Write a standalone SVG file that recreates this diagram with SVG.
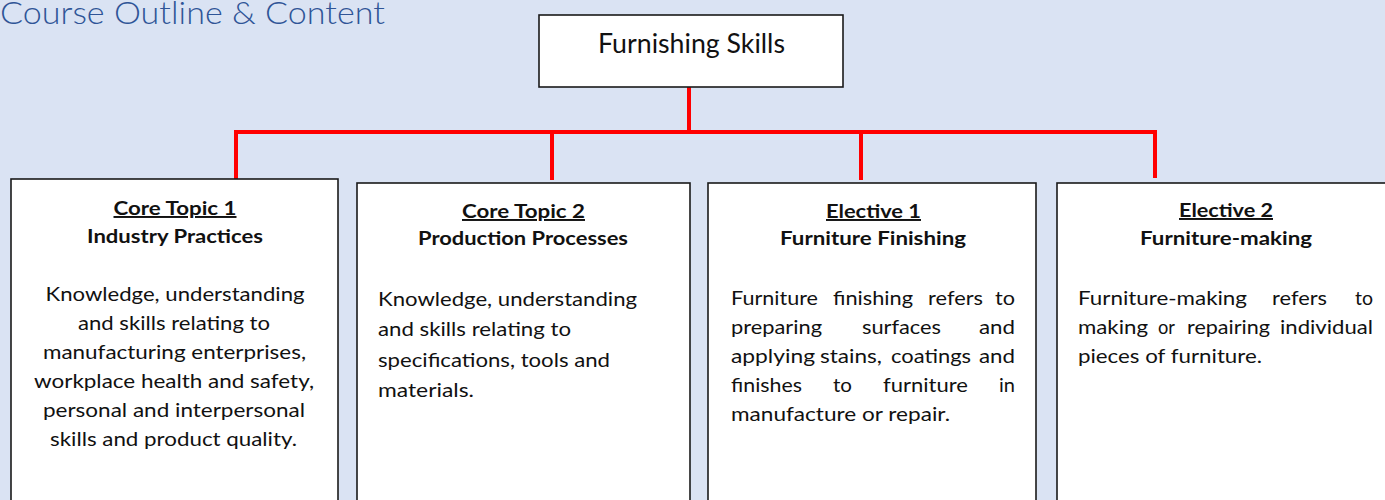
<svg xmlns="http://www.w3.org/2000/svg" width="1385" height="500" viewBox="0 0 1385 500">
<style>
.bg{fill:#DAE3F3}
.box{fill:#FFFFFF;stroke:#1A1A1A;stroke-width:1.6}
.con{fill:none;stroke:#FF0000;stroke-width:4;stroke-linecap:butt;stroke-linejoin:miter}
.t{font-family:Lato,"Liberation Sans",sans-serif;fill:#111111}
.title{font-family:Lato,"Liberation Sans",sans-serif;font-size:32px;font-weight:300;fill:#2F5597}
.root{font-size:27px}
.hd{font-size:19.5px;font-weight:bold}
.ul{text-decoration:underline}
.bd{font-size:20px}
.c{text-anchor:middle}
.e{text-anchor:end}
</style>
<rect class="bg" x="0" y="0" width="1385" height="500"/>
<text class="title" x="0" y="24" textLength="385" lengthAdjust="spacingAndGlyphs">Course Outline &amp; Content</text>

<g id="connectors">
<path class="con" d="M689 87 V133"/>
<path class="con" d="M236 179 V132 H1155 V178"/>
<path class="con" d="M552 132 V180"/>
<path class="con" d="M861 132 V180"/>
</g>

<g id="root">
<rect class="box" x="539" y="15" width="304" height="72"/>
<text class="t root c" x="691.5" y="53" textLength="187" lengthAdjust="spacingAndGlyphs">Furnishing Skills</text>
</g>

<g id="core1">
<rect class="box" x="11" y="179" width="327" height="340"/>
<text class="t hd ul c" x="175" y="215" textLength="123" lengthAdjust="spacingAndGlyphs">Core Topic 1</text>
<text class="t hd c" x="175" y="243" textLength="176" lengthAdjust="spacingAndGlyphs">Industry Practices</text>
<text class="t bd c" x="175" y="301" textLength="259" lengthAdjust="spacingAndGlyphs">Knowledge, understanding</text>
<text class="t bd c" x="174" y="330" textLength="192" lengthAdjust="spacingAndGlyphs">and skills relating to</text>
<text class="t bd c" x="174.5" y="359" textLength="263" lengthAdjust="spacingAndGlyphs">manufacturing enterprises,</text>
<text class="t bd c" x="174" y="388" textLength="280" lengthAdjust="spacingAndGlyphs">workplace health and safety,</text>
<text class="t bd c" x="174" y="417" textLength="262" lengthAdjust="spacingAndGlyphs">personal and interpersonal</text>
<text class="t bd c" x="173.5" y="446" textLength="247" lengthAdjust="spacingAndGlyphs">skills and product quality.</text>
</g>

<g id="core2">
<rect class="box" x="357" y="183" width="333" height="340"/>
<text class="t hd ul c" x="523.5" y="218" textLength="123" lengthAdjust="spacingAndGlyphs">Core Topic 2</text>
<text class="t hd c" x="523" y="245" textLength="210" lengthAdjust="spacingAndGlyphs">Production Processes</text>
<text class="t bd" x="378" y="306" textLength="259" lengthAdjust="spacingAndGlyphs">Knowledge, understanding</text>
<text class="t bd" x="378" y="336" textLength="193" lengthAdjust="spacingAndGlyphs">and skills relating to</text>
<text class="t bd" x="378" y="367" textLength="232" lengthAdjust="spacingAndGlyphs">specifications, tools and</text>
<text class="t bd" x="378" y="397" textLength="96" lengthAdjust="spacingAndGlyphs">materials.</text>
</g>

<g id="elective1">
<rect class="box" x="708" y="183" width="328" height="340"/>
<text class="t hd ul c" x="873.5" y="218" textLength="95" lengthAdjust="spacingAndGlyphs">Elective 1</text>
<text class="t hd c" x="873" y="245" textLength="186" lengthAdjust="spacingAndGlyphs">Furniture Finishing</text>
<text class="t bd" y="305"><tspan x="731" textLength="87" lengthAdjust="spacingAndGlyphs">Furniture</tspan><tspan x="833" textLength="80" lengthAdjust="spacingAndGlyphs">finishing</tspan><tspan x="928" textLength="55" lengthAdjust="spacingAndGlyphs">refers</tspan><tspan x="995" textLength="20" lengthAdjust="spacingAndGlyphs">to</tspan></text>
<text class="t bd" y="334"><tspan x="731" textLength="91" lengthAdjust="spacingAndGlyphs">preparing</tspan><tspan x="862" textLength="79" lengthAdjust="spacingAndGlyphs">surfaces</tspan><tspan x="979" textLength="36" lengthAdjust="spacingAndGlyphs">and</tspan></text>
<text class="t bd" y="363"><tspan x="731" textLength="84" lengthAdjust="spacingAndGlyphs">applying</tspan><tspan x="820" textLength="62" lengthAdjust="spacingAndGlyphs">stains,</tspan><tspan x="891" textLength="80" lengthAdjust="spacingAndGlyphs">coatings</tspan><tspan x="979" textLength="36" lengthAdjust="spacingAndGlyphs">and</tspan></text>
<text class="t bd" y="392"><tspan x="731" textLength="71" lengthAdjust="spacingAndGlyphs">finishes</tspan><tspan x="833" textLength="19" lengthAdjust="spacingAndGlyphs">to</tspan><tspan x="883" textLength="85" lengthAdjust="spacingAndGlyphs">furniture</tspan><tspan x="999" textLength="16" lengthAdjust="spacingAndGlyphs">in</tspan></text>
<text class="t bd" x="731" y="421" textLength="219" lengthAdjust="spacingAndGlyphs">manufacture or repair.</text>
</g>

<g id="elective2">
<rect class="box" x="1057" y="183" width="340" height="340"/>
<text class="t hd ul c" x="1226" y="217" textLength="94" lengthAdjust="spacingAndGlyphs">Elective 2</text>
<text class="t hd c" x="1226" y="245" textLength="172" lengthAdjust="spacingAndGlyphs">Furniture-making</text>
<text class="t bd" y="305"><tspan x="1078" textLength="169" lengthAdjust="spacingAndGlyphs">Furniture-making</tspan><tspan x="1272" textLength="55" lengthAdjust="spacingAndGlyphs">refers</tspan><tspan x="1355" textLength="18" lengthAdjust="spacingAndGlyphs">to</tspan></text>
<text class="t bd" y="334"><tspan x="1078" textLength="70" lengthAdjust="spacingAndGlyphs">making</tspan><tspan x="1158" textLength="17" lengthAdjust="spacingAndGlyphs">or</tspan><tspan x="1187" textLength="83" lengthAdjust="spacingAndGlyphs">repairing</tspan><tspan x="1280" textLength="93" lengthAdjust="spacingAndGlyphs">individual</tspan></text>
<text class="t bd" x="1078" y="363" textLength="184" lengthAdjust="spacingAndGlyphs">pieces of furniture.</text>
</g>
</svg>
